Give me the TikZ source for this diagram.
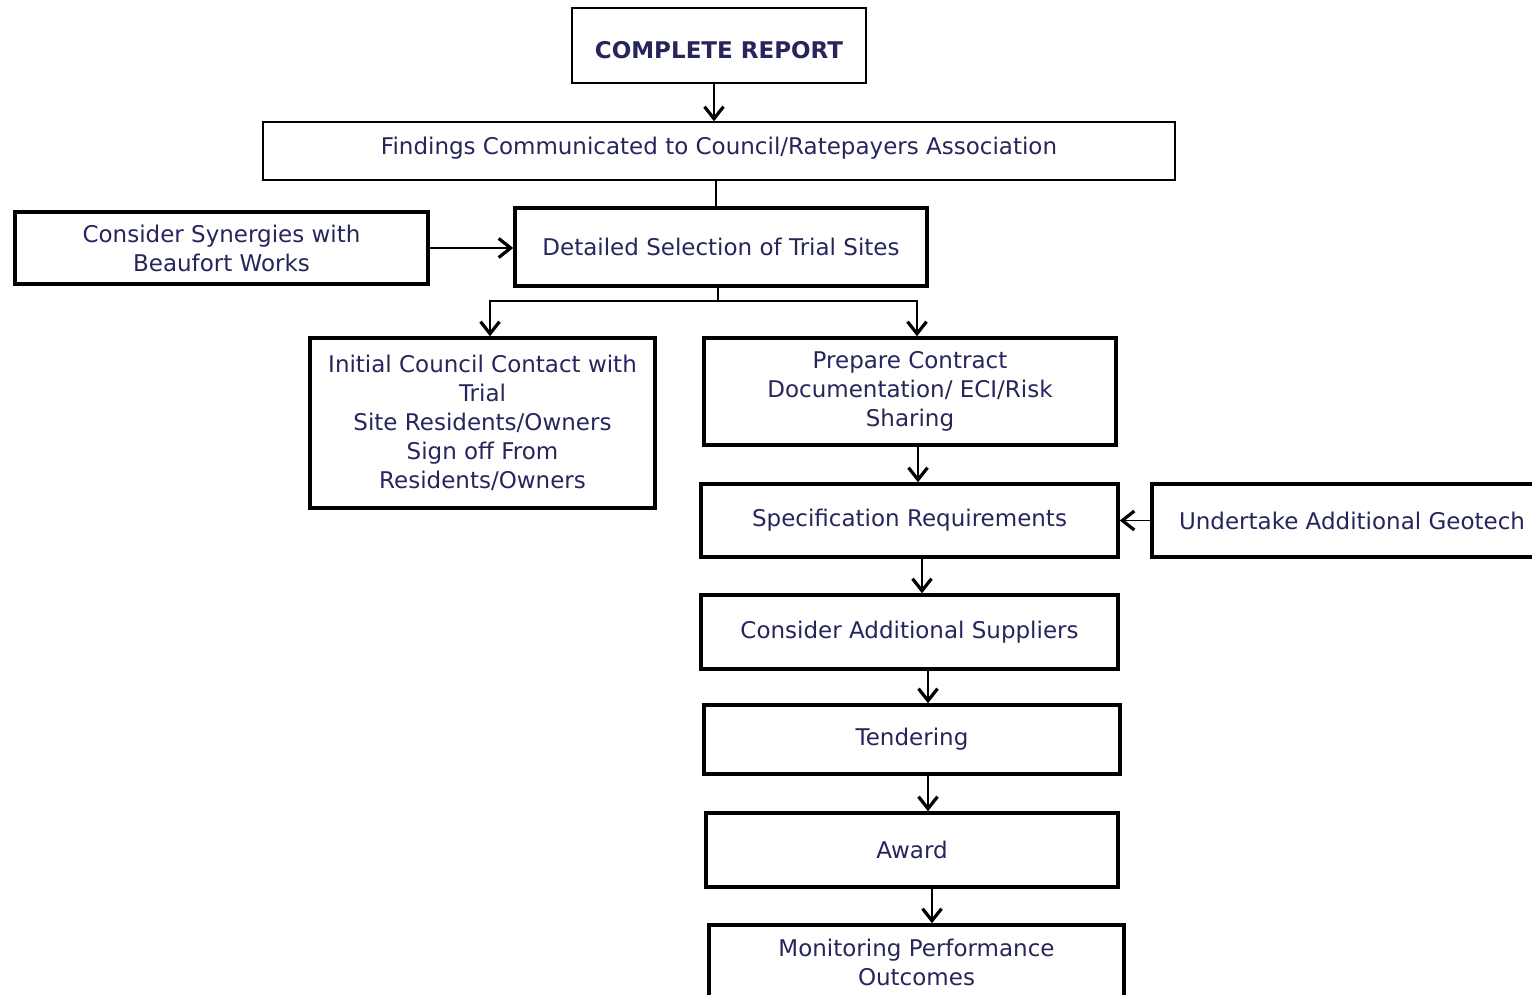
\documentclass[tikz,border=0pt]{standalone}
\usepackage{fontspec}
\setmainfont{DejaVu Sans}
\usetikzlibrary{arrows.meta}
\definecolor{navy}{RGB}{38,38,92}
\tikzset{
  box/.style={draw, line width=3.5pt, align=center, text=navy, inner sep=0pt},
  thinbox/.style={draw, line width=1.5pt, text=navy, inner sep=0pt},
  link/.style={-{Straight Barb[length=12pt,width=19pt,line width=3.2pt]}, line width=1.5pt},
  plain/.style={line width=1.5pt},
}
\begin{document}
\begin{tikzpicture}[x=1pt,y=-1pt,font=\fontsize{23}{29}\selectfont]
  \useasboundingbox (0,0) rectangle (1532,995);
  \fill[white] (0,0) rectangle (1532,995);

  % top of the chart
  \node[thinbox, minimum width=294pt, minimum height=75pt, text height=26pt, text depth=0pt, font=\fontsize{23}{29}\selectfont\bfseries] (report) at (719,45.5) {COMPLETE REPORT};
  \node[thinbox, minimum width=912pt, minimum height=58pt, text height=17pt, text depth=10pt] (findings) at (719,151) {Findings Communicated to Council/Ratepayers Association};

  \node[box, minimum width=413pt, minimum height=72pt] (synergies) at (221.5,248) {Consider Synergies with\\Beaufort Works};
  \node[box, minimum width=412pt, minimum height=78pt] (detailed) at (721,247) {Detailed Selection of Trial Sites};

  % two branches
  \node[box, minimum width=345pt, minimum height=170pt] (initial) at (482.5,423) {Initial Council Contact with\\Trial\\Site Residents/Owners\\Sign off From\\Residents/Owners};
  \node[box, minimum width=412pt, minimum height=107pt] (prepare) at (910,391.5) {Prepare Contract\\Documentation/ ECI/Risk\\Sharing};

  \node[box, minimum width=417pt, minimum height=73pt] (spec) at (909.5,520.5) {\raisebox{2pt}{Specification Requirements}};
  \node[box, minimum width=400pt, minimum height=73pt] (geotech) at (1352,520.5) {Undertake Additional Geotech};
  \node[box, minimum width=417pt, minimum height=74pt] (suppliers) at (909.5,632) {Consider Additional Suppliers};
  \node[box, minimum width=416pt, minimum height=69pt] (tendering) at (912,739.5) {Tendering};
  \node[box, minimum width=412pt, minimum height=74pt] (award) at (912,850) {Award};
  \node[box, minimum width=415pt, minimum height=74pt] (monitoring) at (916.5,962) {Monitoring Performance\\Outcomes};

  % connectors
  \draw[link] (714,0 |- report.south) -- (714,0 |- findings.north);
  \draw[plain] (716,0 |- findings.south) -- (716,0 |- detailed.north);
  \draw[link] (synergies.east) -- (synergies.east -| detailed.west);

  \coordinate (split) at (718,301);
  \draw[plain] (718,0 |- detailed.south) -- (split);
  \draw[link] (split) -| (490,0 |- initial.north);
  \draw[link] (split) -| (917,0 |- prepare.north);

  \draw[link] (918,0 |- prepare.south) -- (918,0 |- spec.north);
  \draw[link] (geotech.west) -- (geotech.west -| spec.east);
  \draw[link] (922,0 |- spec.south) -- (922,0 |- suppliers.north);
  \draw[link] (928,0 |- suppliers.south) -- (928,0 |- tendering.north);
  \draw[link] (928,0 |- tendering.south) -- (928,0 |- award.north);
  \draw[link] (932,0 |- award.south) -- (932,0 |- monitoring.north);
\end{tikzpicture}
\end{document}
